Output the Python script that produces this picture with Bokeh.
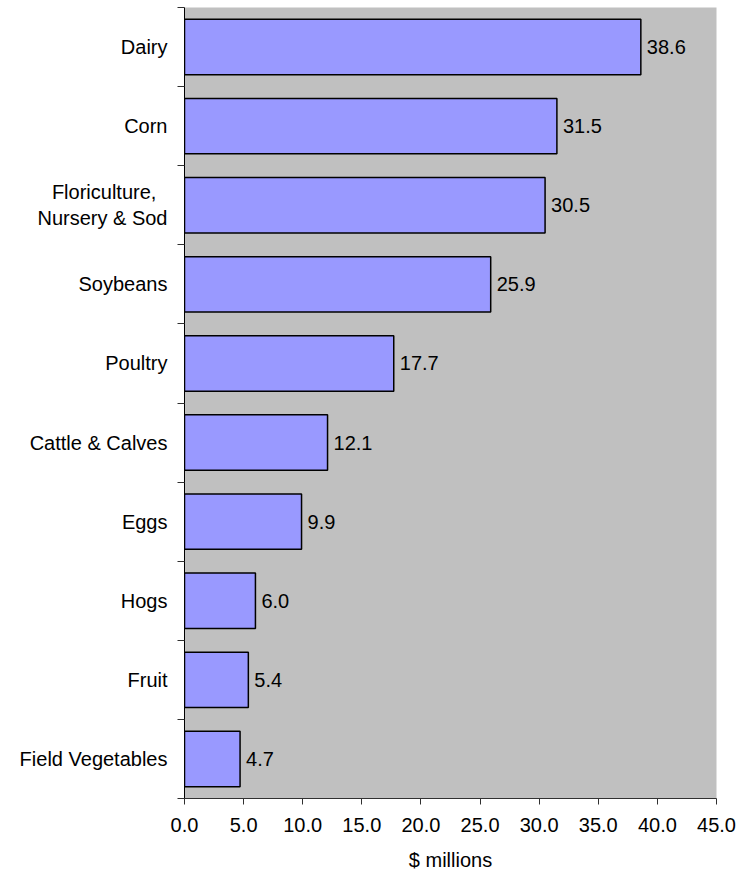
from bokeh.plotting import figure
from bokeh.models import ColumnDataSource, Range1d, FixedTicker, PrintfTickFormatter
from bokeh.embed import file_html
from bokeh.resources import INLINE

# Commodity categories (top to bottom) and their values in $ millions
categories = ["Dairy", "Corn", "Floriculture,\u00a0\u00a0\nNursery & Sod", "Soybeans", "Poultry",
              "Cattle & Calves", "Eggs", "Hogs", "Fruit", "Field Vegetables"]
values = [38.6, 31.5, 30.5, 25.9, 17.7, 12.1, 9.9, 6.0, 5.4, 4.7]
x_ticks = [0, 5, 10, 15, 20, 25, 30, 35, 40, 45]

n = len(categories)
# numeric slot positions: first category at the top
positions = [n - 0.5 - i for i in range(n)]
labels = ["%.1f" % v for v in values]

source = ColumnDataSource(data=dict(y=positions, value=values, label=labels))

FONT = "Liberation Sans"

p = figure(width=738, height=876, output_backend="svg", toolbar_location=None,
           x_range=Range1d(0, 45), y_range=Range1d(0, n),
           min_border_left=184, min_border_right=22, min_border_top=7, min_border_bottom=78)

p.background_fill_color = "#C0C0C0"
p.border_fill_color = "white"
p.outline_line_color = None
p.grid.visible = False

p.hbar(y="y", right="value", left=0, height=0.7, source=source,
       fill_color="#9999FF", line_color="black", line_width=1.5)

p.text(x="value", y="y", text="label", source=source, x_offset=6,
       text_baseline="middle", text_align="left", text_font_size="20px",
       text_color="black", text_font={"value": FONT})

# x axis
xa = p.xaxis[0]
xa.ticker = FixedTicker(ticks=x_ticks)
xa.formatter = PrintfTickFormatter(format="%.1f")
xa.axis_label = "$ millions"
xa.axis_label_text_font = FONT
xa.axis_label_text_font_size = "20px"
xa.axis_label_text_font_style = "normal"
xa.axis_label_text_color = "black"
xa.axis_label_standoff = 14
xa.major_label_text_font = FONT
xa.major_label_text_font_size = "20px"
xa.major_label_text_color = "black"
xa.major_label_standoff = 13
xa.axis_line_color = "#303030"
xa.major_tick_line_color = "#303030"
xa.major_tick_out = 6
xa.major_tick_in = 0
xa.minor_tick_line_color = None

# y axis: labels at slot centres, ticks at slot boundaries
ya = p.yaxis[0]
ya.ticker = FixedTicker(ticks=positions, minor_ticks=list(range(n + 1)))
ya.major_label_overrides = {pos: cat for pos, cat in zip(positions, categories)}
ya.major_label_text_font = FONT
ya.major_label_text_font_size = "20px"
ya.major_label_text_color = "black"
ya.major_label_standoff = 10
ya.major_tick_out = 0
ya.major_tick_in = 0
ya.minor_tick_out = 7
ya.minor_tick_in = 0
ya.minor_tick_line_color = "#303030"
ya.axis_line_color = "black"

open("out.html", "w").write(file_html(p, INLINE))
